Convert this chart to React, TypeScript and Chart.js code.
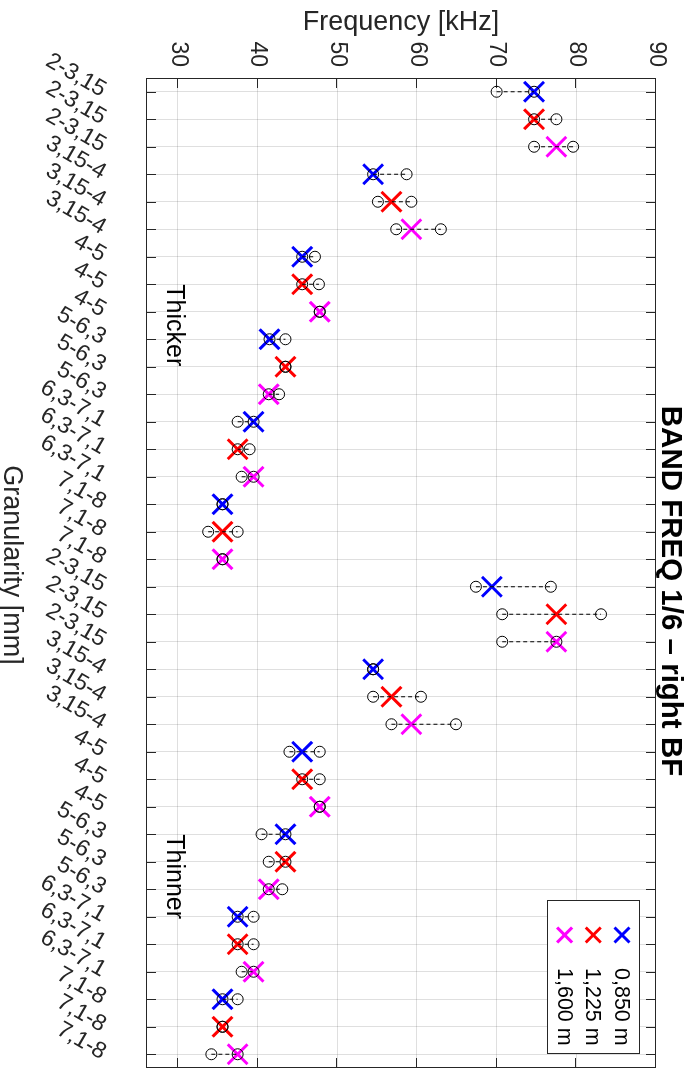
import React, { useEffect, useRef } from 'react';
import { Chart, registerables } from 'chart.js';

Chart.register(...registerables);

// ---------- data ----------
const tickLabels = [
  '2-3,15', '2-3,15', '2-3,15', '3,15-4', '3,15-4', '3,15-4',
  '4-5', '4-5', '4-5', '5-6,3', '5-6,3', '5-6,3',
  '6,3-7,1', '6,3-7,1', '6,3-7,1', '7,1-8', '7,1-8', '7,1-8',
  '2-3,15', '2-3,15', '2-3,15', '3,15-4', '3,15-4', '3,15-4',
  '4-5', '4-5', '4-5', '5-6,3', '5-6,3', '5-6,3',
  '6,3-7,1', '6,3-7,1', '6,3-7,1', '7,1-8', '7,1-8', '7,1-8',
];

const seriesNames = ['0,850 m', '1,225 m', '1,600 m'];
const seriesColors = ['#0000ff', '#ff0000', '#ff00ff'];

// one value per granularity group (thicker 6, thinner 6)
const values0850 = [74.7, 54.5, 45.6, 41.5, 39.5, 35.6, 69.4, 54.5, 45.6, 43.5, 37.5, 35.6];
const values1225 = [74.7, 56.8, 45.6, 43.5, 37.5, 35.6, 77.5, 56.8, 45.6, 43.5, 37.5, 35.6];
const values1600 = [77.5, 59.3, 47.8, 41.4, 39.5, 35.6, 77.5, 59.3, 47.8, 41.4, 39.5, 37.5];

// range (min / max) for every row
const rangeMin = [
  70.0, 74.7, 74.7, 54.5, 55.1, 57.4, 45.6, 45.6, 47.8, 41.5, 43.5, 41.4,
  37.5, 37.5, 38.0, 35.6, 33.8, 35.6, 67.4, 70.7, 70.7, 54.5, 54.5, 56.8,
  44.0, 45.6, 47.8, 40.5, 41.4, 41.4, 37.5, 37.5, 38.0, 35.6, 35.6, 34.2,
];
const rangeMax = [
  74.7, 77.5, 79.6, 58.7, 59.3, 63.0, 47.2, 47.7, 47.8, 43.5, 43.5, 42.7,
  39.5, 39.0, 39.5, 35.6, 37.5, 35.6, 76.8, 83.1, 77.5, 54.5, 60.5, 64.9,
  47.8, 47.8, 47.8, 43.5, 43.5, 43.1, 39.5, 39.5, 39.5, 37.5, 35.6, 37.5,
];

const freqTicks = [30, 40, 50, 60, 70, 80, 90];
const freqMin = 26;
const freqMax = 90;

const noteTexts = ['Thicker', 'Thinner'];
const noteRows = [7, 27];
const noteFreqs = [29.5, 29.5];

const titleText = 'BAND FREQ 1/6 \u2013 right BF';
const xTitle = 'Granularity [mm]';
const yTitle = 'Frequency [kHz]';

// ---------- styles ----------
const FONT = "'Liberation Sans', Arial, Helvetica, sans-serif";
const AXIS = '#262626';
const GRID = 'rgba(38,38,38,0.15)';

const seriesValues = [values0850, values1225, values1600];

const rangeData: { x: number; y: number | null }[] = [];
rangeMin.forEach((lo, i) => {
  rangeData.push({ x: i, y: lo }, { x: i, y: rangeMax[i] }, { x: i, y: null });
});

const framePlugin = {
  id: 'frame',
  beforeDatasetsDraw(chart: any) {
    const { ctx, chartArea: a, scales } = chart;
    const L = 10;
    ctx.save();
    ctx.strokeStyle = AXIS;
    ctx.lineWidth = 1;
    ctx.beginPath();
    scales.x.ticks.forEach((t: any) => {
      const px = Math.round(scales.x.getPixelForValue(t.value)) + 0.5;
      ctx.moveTo(px, a.bottom);
      ctx.lineTo(px, a.bottom - L);
      ctx.moveTo(px, a.top);
      ctx.lineTo(px, a.top + L);
    });
    scales.y.ticks.forEach((t: any) => {
      const py = Math.round(scales.y.getPixelForValue(t.value)) + 0.5;
      ctx.moveTo(a.left, py);
      ctx.lineTo(a.left + L, py);
      ctx.moveTo(a.right, py);
      ctx.lineTo(a.right - L, py);
    });
    ctx.stroke();
    ctx.strokeRect(a.left + 0.5, a.top + 0.5, a.right - a.left - 1, a.bottom - a.top - 1);
    ctx.restore();
  },
  afterDraw(chart: any) {
    const { ctx, chartArea: a, scales } = chart;
    ctx.save();
    // title
    ctx.fillStyle = '#000';
    ctx.font = `bold 29.5px ${FONT}`;
    ctx.textAlign = 'center';
    ctx.textBaseline = 'alphabetic';
    ctx.fillText(titleText, 591, 34);
    // x title
    ctx.fillStyle = AXIS;
    ctx.font = `27px ${FONT}`;
    ctx.fillText(xTitle, 565, 692);
    // notes
    ctx.fillStyle = '#000';
    ctx.font = `25px ${FONT}`;
    ctx.textAlign = 'left';
    ctx.textBaseline = 'middle';
    noteTexts.forEach((t, i) => {
      ctx.fillText(t, scales.x.getPixelForValue(noteRows[i]), scales.y.getPixelForValue(noteFreqs[i]));
    });
    // legend
    const bw = 153, bh = 92;
    const bx = a.right - 15 - bw;
    const by = a.top + 16;
    ctx.fillStyle = '#fff';
    ctx.fillRect(bx, by, bw, bh);
    ctx.strokeStyle = AXIS;
    ctx.lineWidth = 1;
    ctx.strokeRect(bx + 0.5, by + 0.5, bw, bh);
    ctx.font = `21.5px ${FONT}`;
    ctx.textAlign = 'left';
    ctx.textBaseline = 'middle';
    seriesNames.forEach((name, k) => {
      const cy = by + 18 + k * 28.7;
      const cx = bx + 35;
      const r = 7.5;
      ctx.strokeStyle = seriesColors[k];
      ctx.lineWidth = 3;
      ctx.beginPath();
      ctx.moveTo(cx - r, cy - r);
      ctx.lineTo(cx + r, cy + r);
      ctx.moveTo(cx + r, cy - r);
      ctx.lineTo(cx - r, cy + r);
      ctx.stroke();
      ctx.fillStyle = '#000';
      ctx.fillText(name, bx + 68, cy + 1);
    });
    ctx.restore();
  },
};

export default function App() {
  const canvasRef = useRef<HTMLCanvasElement>(null);

  useEffect(() => {
    const canvas = canvasRef.current;
    if (!canvas) return;
    const chart = new Chart(canvas, {
      type: 'scatter',
      data: {
        datasets: [
          {
            type: 'line',
            label: 'range',
            data: rangeData as any,
            order: 0,
            borderColor: '#000',
            borderWidth: 1,
            borderDash: [4, 3],
            pointStyle: 'circle',
            pointRadius: 5.5,
            pointBorderColor: '#000',
            pointBackgroundColor: 'rgba(0,0,0,0)',
            pointBorderWidth: 1,
            spanGaps: false,
            tension: 0,
            fill: false,
          } as any,
          ...seriesValues.map((vals, s) => ({
            type: 'scatter',
            label: seriesNames[s],
            data: vals.map((v, k) => ({ x: 3 * k + s, y: v })),
            order: 1,
            pointStyle: 'crossRot',
            pointRadius: 14,
            pointBorderWidth: 3,
            pointBorderColor: seriesColors[s],
            pointBackgroundColor: seriesColors[s],
            borderColor: seriesColors[s],
            backgroundColor: seriesColors[s],
            showLine: false,
          } as any)),
        ],
      },
      options: {
        responsive: false,
        animation: false,
        devicePixelRatio: 1,
        events: [],
        layout: { autoPadding: false, padding: { left: 0, right: 0, top: 40, bottom: 0 } },
        plugins: {
          legend: { display: false },
          title: { display: false },
          tooltip: { enabled: false },
        },
        scales: {
          x: {
            type: 'linear',
            min: -0.5,
            max: tickLabels.length - 0.5,
            afterBuildTicks: (s: any) => {
              s.ticks = tickLabels.map((_, i) => ({ value: i }));
            },
            afterFit: (s: any) => {
              s.height = 146;
              s.paddingLeft = 0;
              s.paddingRight = 0;
            },
            grid: { color: GRID, lineWidth: 1, drawTicks: false },
            border: { display: false },
            ticks: {
              autoSkip: false,
              minRotation: 60,
              maxRotation: 60,
              padding: 35,
              color: AXIS,
              font: { family: FONT, size: 23 },
              callback: (v: any) => tickLabels[v] ?? '',
            },
          },
          y: {
            type: 'linear',
            min: freqMin,
            max: freqMax,
            afterBuildTicks: (s: any) => {
              s.ticks = freqTicks.map((v) => ({ value: v }));
            },
            afterFit: (s: any) => {
              s.width = 78;
            },
            grid: { color: GRID, lineWidth: 1, drawTicks: false },
            border: { display: false },
            ticks: {
              padding: 11,
              color: AXIS,
              font: { family: FONT, size: 23 },
            },
            title: {
              display: true,
              text: yTitle,
              color: AXIS,
              font: { family: FONT, size: 27 },
              padding: { top: 6, bottom: 0 },
            },
          },
        },
      } as any,
      plugins: [framePlugin],
    });
    return () => chart.destroy();
  }, []);

  return (
    <div
      style={{
        position: 'absolute',
        left: 0,
        top: 0,
        width: 696,
        height: 1068,
        overflow: 'hidden',
        background: '#fff',
      }}
    >
      <div
        style={{
          position: 'absolute',
          left: 0,
          top: 0,
          width: 1068,
          height: 696,
          transformOrigin: '0 0',
          transform: 'translate(696px, 0) rotate(90deg)',
        }}
      >
        <canvas ref={canvasRef} width={1068} height={696} style={{ display: 'block', width: 1068, height: 696 }} />
      </div>
    </div>
  );
}
